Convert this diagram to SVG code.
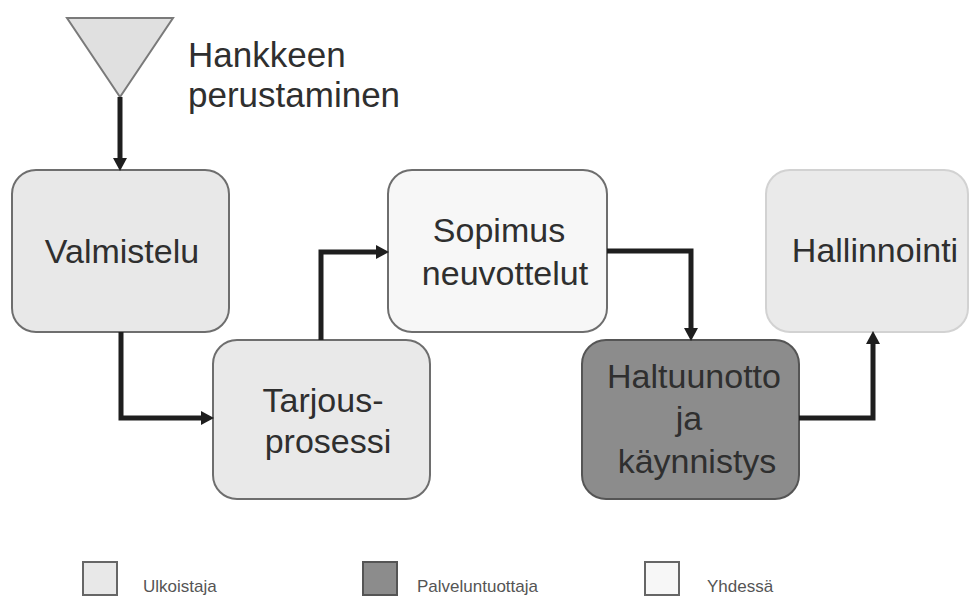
<svg xmlns="http://www.w3.org/2000/svg" width="971" height="597" viewBox="0 0 971 597">
<defs>
<style>
.t{font-family:"Liberation Sans",Arial,sans-serif;font-size:34px;fill:#2f2f2f;text-anchor:middle}
.lg{font-family:"Liberation Sans",Arial,sans-serif;font-size:17px;fill:#555;}
.box{stroke-width:2}
.c{fill:none;stroke:#1e1e1e;stroke-width:5;stroke-linejoin:miter;marker-end:url(#ah)}
</style>
<marker id="ah" markerUnits="userSpaceOnUse" markerWidth="14" markerHeight="14" refX="0" refY="7" orient="auto" viewBox="0 0 14 14">
<path d="M0,0 L13,7 L0,14 z" fill="#1e1e1e"/>
</marker>
</defs>
<rect width="971" height="597" fill="#ffffff"/>
<g id="start">
<polygon points="67,18 173,18 120,97" fill="#e0e0e0" stroke="#7a7a7a" stroke-width="2"/>
<text class="t" x="188" y="67" style="text-anchor:start;font-size:35px">Hankkeen</text>
<text class="t" x="188" y="107" style="text-anchor:start;font-size:35px">perustaminen</text>
</g>
<g id="valmistelu">
<rect class="box" x="12" y="170" width="217" height="162" rx="24" fill="#e8e8e8" stroke="#6e6e6e"/>
<text class="t" x="122" y="263">Valmistelu</text>
</g>
<g id="tarjous">
<rect class="box" x="213" y="340" width="217" height="159" rx="24" fill="#e9e9e9" stroke="#6e6e6e"/>
<text class="t" x="323" y="412">Tarjous-</text>
<text class="t" x="328" y="453">prosessi</text>
</g>
<g id="sopimus">
<rect class="box" x="388" y="170" width="219" height="162" rx="24" fill="#f7f7f7" stroke="#6e6e6e"/>
<text class="t" x="499" y="242">Sopimus</text>
<text class="t" x="505" y="285">neuvottelut</text>
</g>
<g id="haltuunotto">
<rect class="box" x="582" y="340" width="217" height="159" rx="24" fill="#8c8c8c" stroke="#555555"/>
<text class="t" x="694" y="388">Haltuunotto</text>
<text class="t" x="689" y="430">ja</text>
<text class="t" x="697" y="473">käynnistys</text>
</g>
<g id="hallinnointi">
<rect class="box" x="766" y="170" width="202" height="162" rx="24" fill="#eaeaea" stroke="#d2d2d2"/>
<text class="t" x="875" y="262">Hallinnointi</text>
</g>
<g id="connectors">
<path class="c" d="M120,97 V158"/>
<path class="c" d="M121,332 V418 H201"/>
<path class="c" d="M321,340 V252 H376"/>
<path class="c" d="M607,251 H691 V328"/>
<path class="c" d="M799,418 H873 V344"/>
</g>
<g id="legend">
<rect x="83" y="562" width="34" height="33" fill="#e8e8e8" stroke="#666" stroke-width="2"/>
<text class="lg" x="143" y="592">Ulkoistaja</text>
<rect x="363" y="562" width="34" height="33" fill="#8c8c8c" stroke="#555" stroke-width="2"/>
<text class="lg" x="417" y="592">Palveluntuottaja</text>
<rect x="645" y="562" width="34" height="33" fill="#f7f7f7" stroke="#666" stroke-width="2"/>
<text class="lg" x="707" y="592">Yhdessä</text>
</g>
</svg>
